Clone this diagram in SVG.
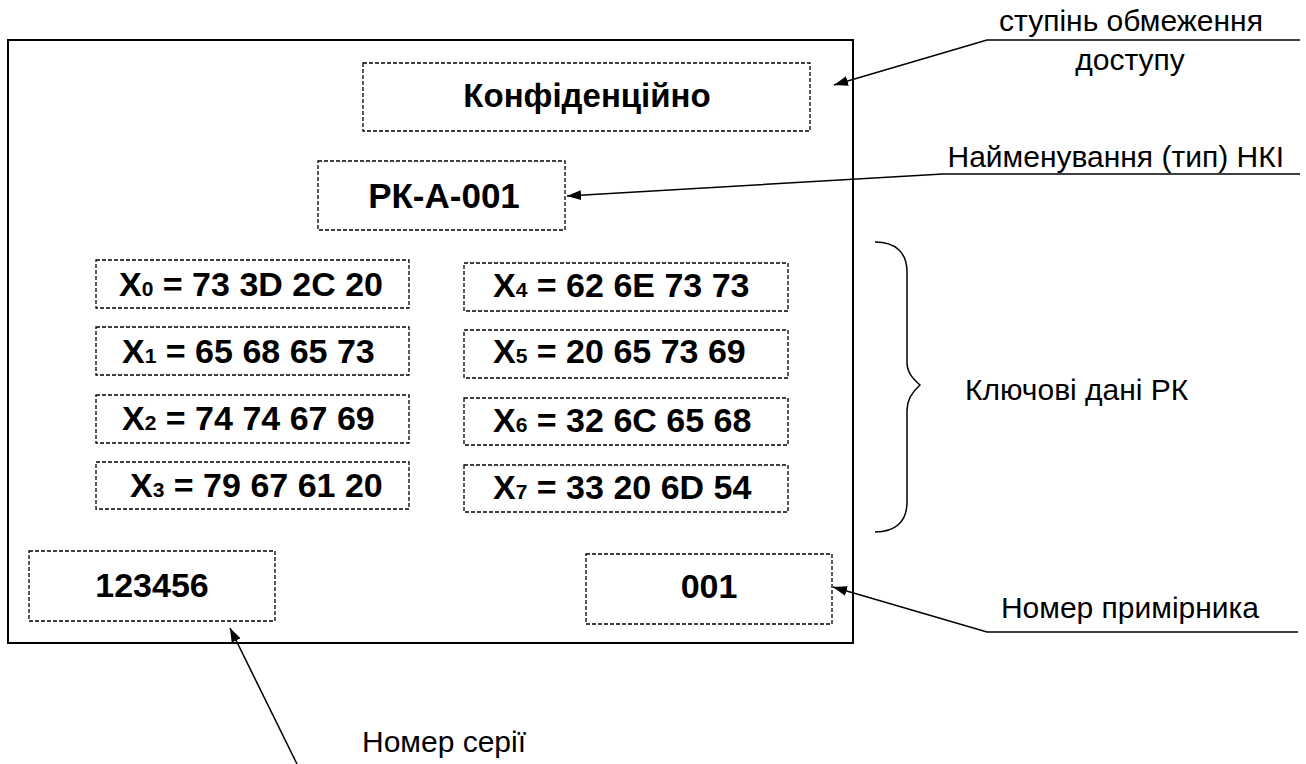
<svg xmlns="http://www.w3.org/2000/svg" width="1306" height="764" viewBox="0 0 1306 764">
<defs>
<marker id="ah" viewBox="0 0 14 10" refX="14" refY="5" markerWidth="14" markerHeight="10" markerUnits="userSpaceOnUse" orient="auto">
<path d="M0,0 L14,5 L0,10 z" fill="#000"/>
</marker>
<style>
.frame{fill:#fff;stroke:#000;stroke-width:2}
.box{fill:none;stroke:#000;stroke-width:1.3;stroke-dasharray:4,2}
.b{font-family:"Liberation Sans",Arial,sans-serif;font-weight:bold;font-size:34px;fill:#000}
.sub{font-size:21px}
.lbl{font-family:"Liberation Sans",Arial,sans-serif;font-size:30px;fill:#000}
.ln{fill:none;stroke:#000;stroke-width:1.5}
</style>
</defs>
<rect width="1306" height="764" fill="#fff"/>
<rect id="frame" class="frame" x="8" y="40" width="845" height="603"/>
<g id="n-conf"><rect class="box" x="363" y="63" width="447" height="68"/><text class="b" x="587" y="107" text-anchor="middle" style="font-size:33px">Конфіденційно</text></g>
<g id="n-name"><rect class="box" x="318" y="161" width="247" height="69"/><text class="b" x="444" y="208" text-anchor="middle" style="font-size:35px">РК-А-001</text></g>
<g id="n-x0"><rect class="box" x="96" y="260" width="313" height="48"/><text class="b" x="119" y="296">X<tspan class="sub">0</tspan> = 73 3D 2C 20</text></g>
<g id="n-x1"><rect class="box" x="96" y="327" width="313" height="48"/><text class="b" x="122" y="363">X<tspan class="sub">1</tspan> = 65 68 65 73</text></g>
<g id="n-x2"><rect class="box" x="96" y="395" width="313" height="48"/><text class="b" x="122" y="430">X<tspan class="sub">2</tspan> = 74 74 67 69</text></g>
<g id="n-x3"><rect class="box" x="96" y="462" width="313" height="47"/><text class="b" x="130" y="497">X<tspan class="sub">3</tspan> = 79 67 61 20</text></g>
<g id="n-x4"><rect class="box" x="464" y="263" width="324" height="48"/><text class="b" x="493" y="297">X<tspan class="sub">4</tspan> = 62 6E 73 73</text></g>
<g id="n-x5"><rect class="box" x="464" y="330" width="324" height="48"/><text class="b" x="493" y="363">X<tspan class="sub">5</tspan> = 20 65 73 69</text></g>
<g id="n-x6"><rect class="box" x="464" y="398" width="324" height="47"/><text class="b" x="493" y="432">X<tspan class="sub">6</tspan> = 32 6C 65 68</text></g>
<g id="n-x7"><rect class="box" x="464" y="465" width="324" height="47"/><text class="b" x="493" y="499">X<tspan class="sub">7</tspan> = 33 20 6D 54</text></g>
<g id="n-series"><rect class="box" x="29" y="551" width="246" height="70"/><text class="b" x="152" y="597" text-anchor="middle">123456</text></g>
<g id="n-copy"><rect class="box" x="586" y="554" width="246" height="70"/><text class="b" x="709" y="598" text-anchor="middle">001</text></g>
<g id="labels">
<text class="lbl" x="1131" y="31" text-anchor="middle">ступінь обмеження</text>
<text class="lbl" x="1130" y="70" text-anchor="middle">доступу</text>
<text class="lbl" x="1284" y="167" text-anchor="end">Найменування (тип) НКІ</text>
<text class="lbl" x="965" y="400">Ключові дані РК</text>
<text class="lbl" x="1130" y="618" text-anchor="middle">Номер примірника</text>
<text class="lbl" x="362" y="752">Номер серії</text>
</g>
<g id="connectors">
<path class="ln" d="M1300,40 L987,40 L834,85" marker-end="url(#ah)"/>
<path class="ln" d="M1300,174 L943,174 L567,196" marker-end="url(#ah)"/>
<path class="ln" d="M1298,632 L987,632 L833,587" marker-end="url(#ah)"/>
<path class="ln" d="M297,764 L230,628" marker-end="url(#ah)"/>
<path class="ln" d="M875,242 C895,242 907,252 907,272 L907,362 C907,372 912,378 920,385 C912,392 907,400 907,410 L907,502 C907,522 895,532 875,532"/>
</g>
</svg>
